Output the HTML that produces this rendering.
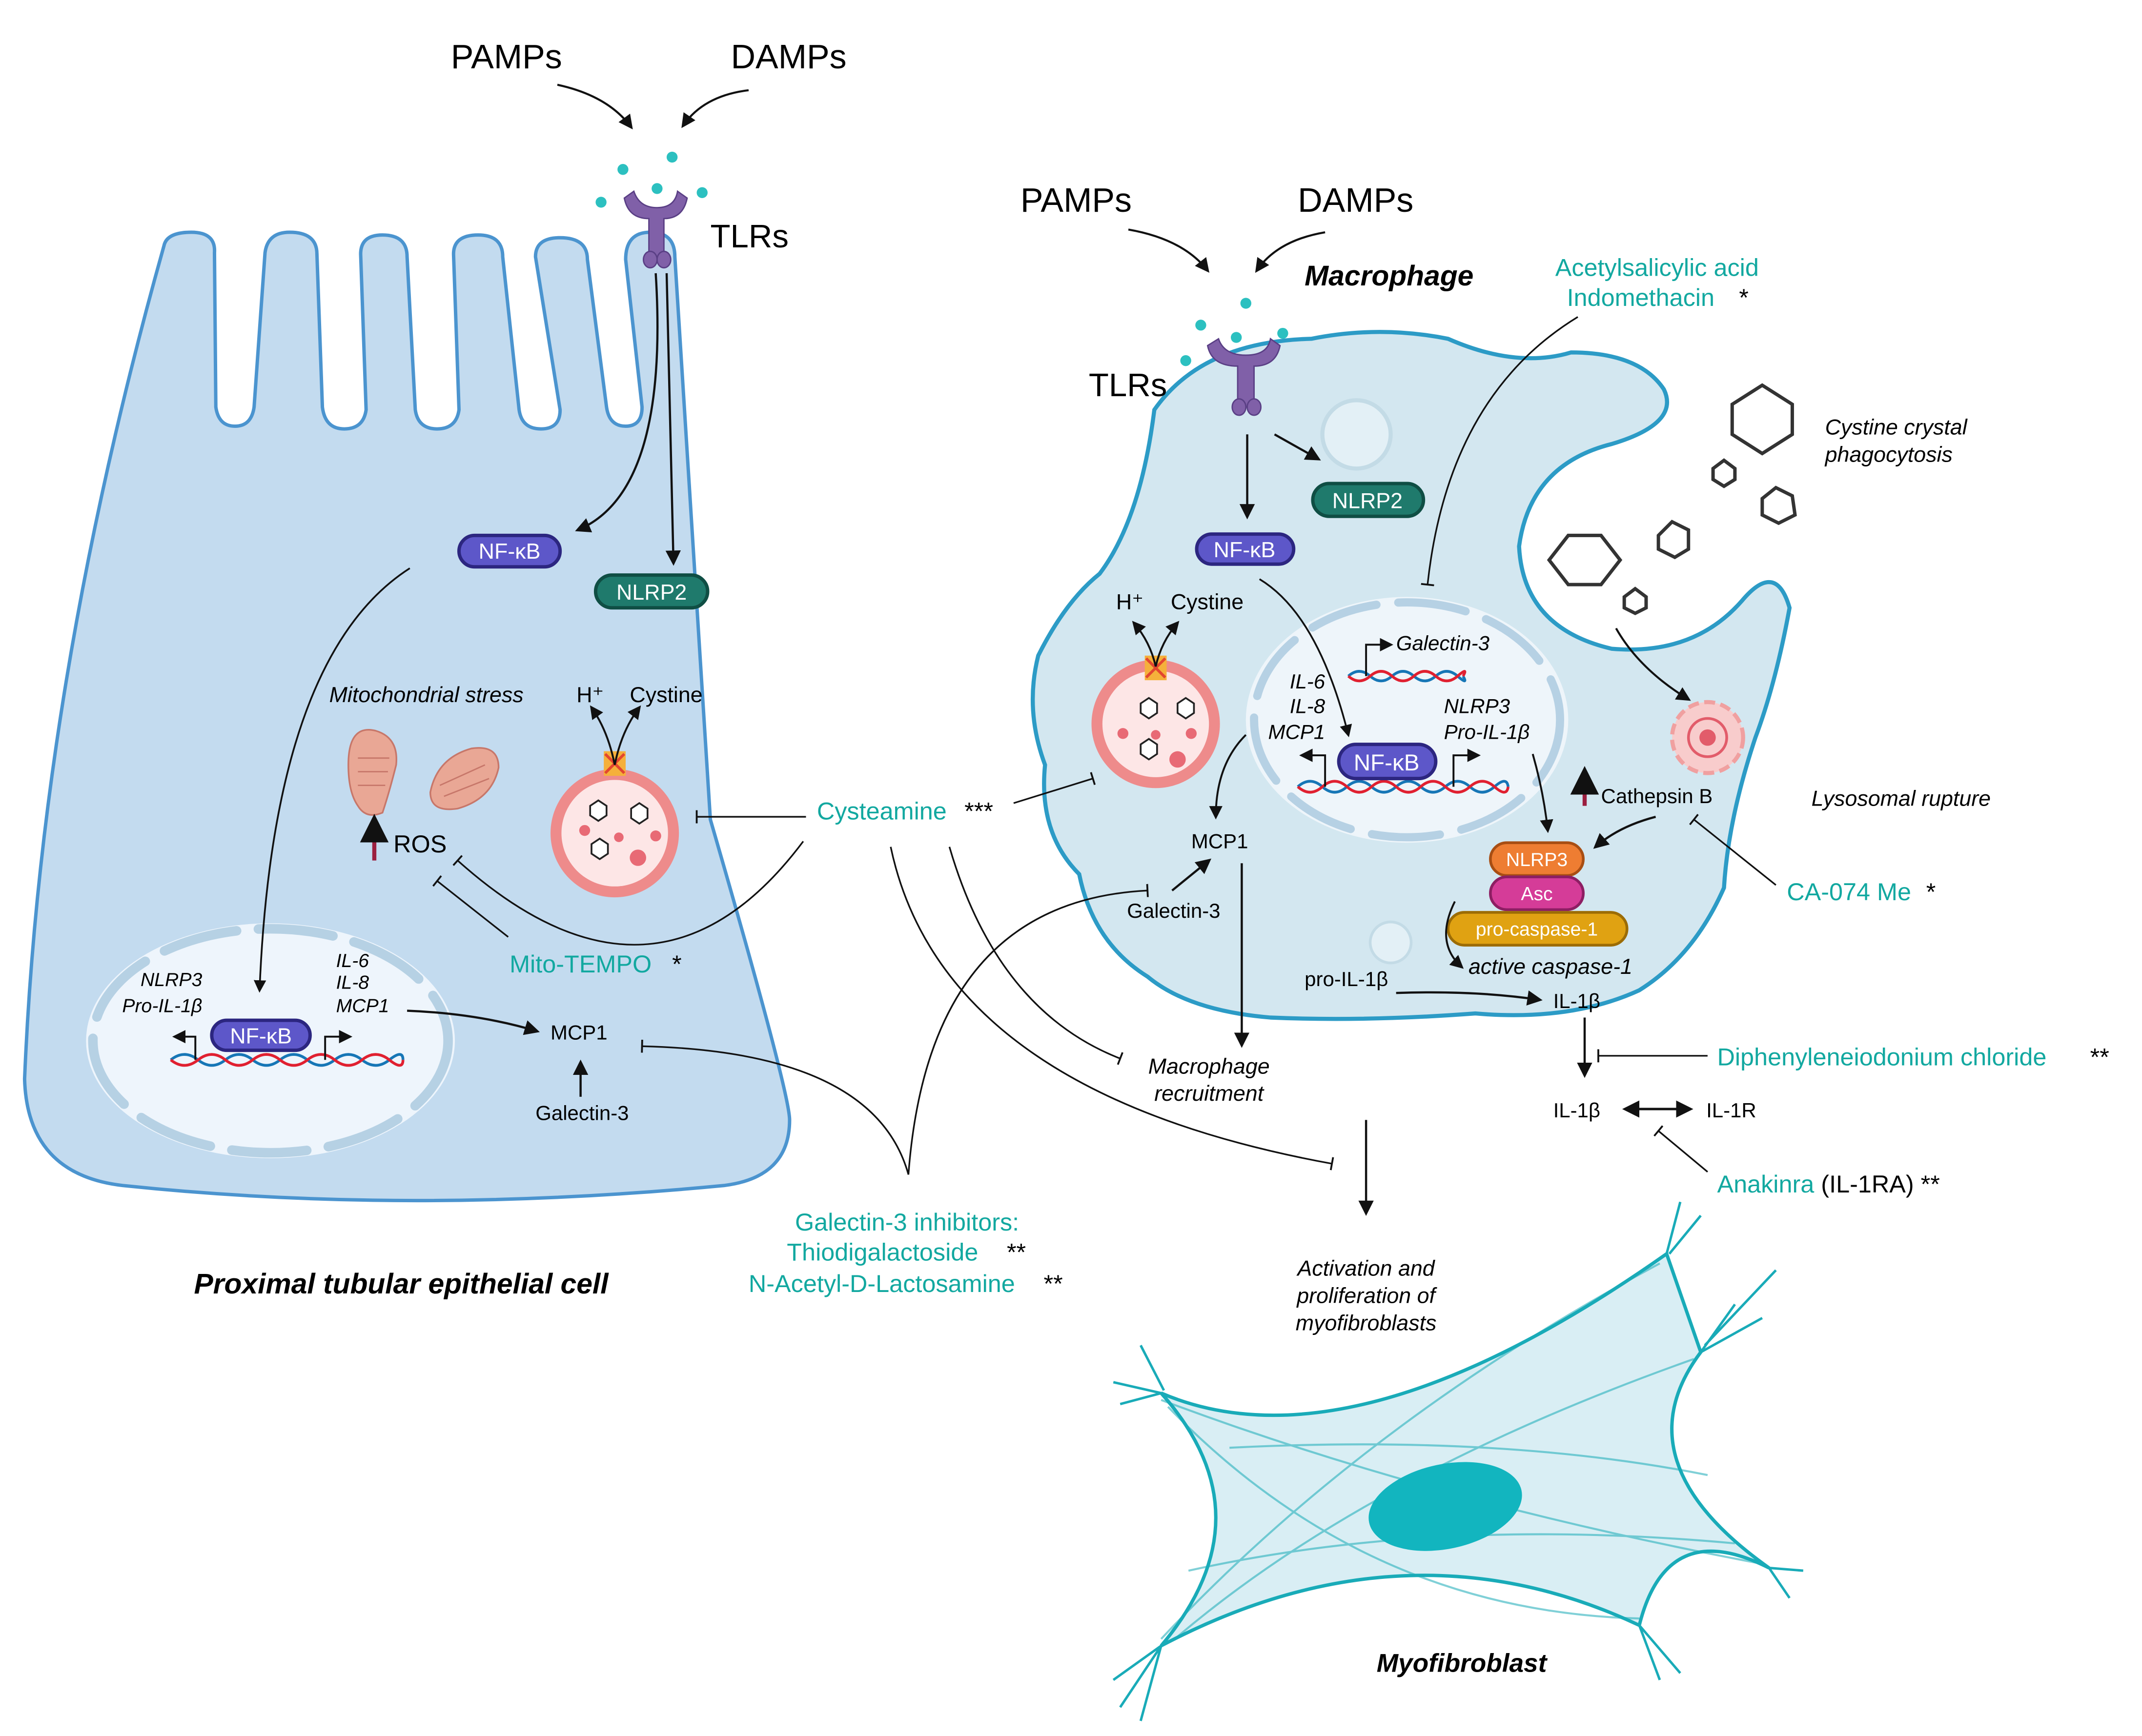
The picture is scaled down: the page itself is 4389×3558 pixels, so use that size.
<!DOCTYPE html>
<html><head><meta charset="utf-8"><style>
html,body{margin:0;padding:0;background:#fff;}
svg{display:block;}
text{font-family:"Liberation Sans",Arial,sans-serif;}
.it{font-style:italic;}
.tl{fill:#12a8a0;}
</style></head><body>
<svg width="4389" height="3558" viewBox="0 0 1568 1271" xmlns="http://www.w3.org/2000/svg">
<defs>
<marker id="ah" viewBox="0 0 10 10" refX="8" refY="5" markerWidth="7" markerHeight="7" orient="auto-start-reverse"><path d="M0,0 L10,5 L0,10 z" fill="#111"/></marker>
<marker id="tb" viewBox="0 0 10 10" refX="5" refY="5" markerWidth="8" markerHeight="8" orient="auto"><path d="M5,0 L5,10" stroke="#111" stroke-width="1.4"/></marker>
</defs>

<!-- ===== Left epithelial cell ===== -->
<path d="M120,180 Q122,170 140,170 Q158,170 157,185 L158,298 Q160,312 172,312 Q184,312 186,298 L194,185 Q196,170 212,170 Q232,170 232,186 L236,298 Q238,314 252,314 Q266,314 268,300 L264,186 Q264,172 280,172 Q298,172 298,188 L304,300 Q306,314 320,314 Q334,314 336,300 L332,186 Q332,172 350,172 Q368,172 368,188 L380,300 Q382,314 396,314 Q410,314 410,300 L392,188 Q392,174 410,174 Q430,174 430,190 L444,298 Q446,312 458,312 Q470,312 470,298 L458,190 Q458,170 476,170 Q494,170 494,188 L520,600 Q578,800 578,820 Q578,862 530,868 Q300,890 90,868 Q20,860 18,790 Q30,500 120,180 Z" fill="#c3dbef" stroke="#4b94cf" stroke-width="2.5"/>

<!-- left nucleus -->
<ellipse cx="198" cy="762" rx="135" ry="86" fill="#eef5fc"/>
<ellipse cx="198" cy="762" rx="130" ry="82" fill="none" stroke="#b6d1e4" stroke-width="7" stroke-dasharray="55 16" stroke-linecap="round"/>
<g stroke-width="2" fill="none">
<path d="M125,776 q10,-8 20,0 t20,0 t20,0 t20,0 t20,0 t20,0 t20,0 t20,0 t10,0" stroke="#1676b6"/>
<path d="M125,776 q10,8 20,0 t20,0 t20,0 t20,0 t20,0 t20,0 t20,0 t20,0 t10,0" stroke="#e02030"/>
</g>
<rect x="155" y="747" width="72" height="22" rx="11" fill="#5d57c9" stroke="#2c2680" stroke-width="2.5"/>
<text x="191" y="764" font-size="16" fill="#fff" text-anchor="middle">NF-κB</text>
<path d="M143,776 V759 H128" stroke="#111" stroke-width="1.4" fill="none" marker-end="url(#ah)"/>
<path d="M238,776 V759 H256" stroke="#111" stroke-width="1.4" fill="none" marker-end="url(#ah)"/>
<text x="148" y="722" font-size="14" class="it" text-anchor="end">NLRP3</text>
<text x="148" y="741" font-size="14" class="it" text-anchor="end">Pro-IL-1β</text>
<text x="246" y="708" font-size="14" class="it">IL-6</text>
<text x="246" y="724" font-size="14" class="it">IL-8</text>
<text x="246" y="741" font-size="14" class="it">MCP1</text>

<!-- left NF-kB, NLRP2 -->
<rect x="336" y="392" width="74" height="23" rx="11.5" fill="#5d57c9" stroke="#2c2680" stroke-width="2.5"/>
<text x="373" y="409" font-size="16" fill="#fff" text-anchor="middle">NF-κB</text>
<rect x="436" y="421" width="82" height="24" rx="12" fill="#1f7a6c" stroke="#0f4e44" stroke-width="2.5"/>
<text x="477" y="439" font-size="16" fill="#fff" text-anchor="middle">NLRP2</text>
<path d="M480,200 Q490,360 423,388" stroke="#111" stroke-width="1.6" fill="none" marker-end="url(#ah)"/>
<path d="M488,200 L493,412" stroke="#111" stroke-width="1.6" fill="none" marker-end="url(#ah)"/>
<path d="M300,416 Q200,480 190,725" stroke="#111" stroke-width="1.3" fill="none" marker-end="url(#ah)"/>

<!-- TLR left -->
<g fill="#8060a8" stroke="#5a3f85" stroke-width="1">
<path d="M457,145 Q460,160 475,160 L475,190 L486,190 L486,160 Q500,160 503,145 L496,140 Q494,152 481,152 Q468,152 464,140 Z"/>
<ellipse cx="476" cy="190" rx="5" ry="6"/><ellipse cx="486" cy="190" rx="5" ry="6"/>
</g>
<g fill="#2cc0c0"><circle cx="440" cy="148" r="4"/><circle cx="456" cy="124" r="4"/><circle cx="492" cy="115" r="4"/><circle cx="481" cy="138" r="4"/><circle cx="514" cy="141" r="4"/></g>
<text x="520" y="181" font-size="24">TLRs</text>
<text x="330" y="50" font-size="25">PAMPs</text>
<text x="535" y="50" font-size="25">DAMPs</text>
<path d="M408,62 Q445,70 462,93" stroke="#111" stroke-width="1.5" fill="none" marker-end="url(#ah)"/>
<path d="M548,66 Q515,70 500,92" stroke="#111" stroke-width="1.5" fill="none" marker-end="url(#ah)"/>

<!-- mitochondria -->
<g fill="#e9a795" stroke="#c7776a" stroke-width="1.2">
<path d="M255,560 Q255,530 275,535 Q292,540 290,560 Q285,580 280,595 Q268,600 262,590 Q255,580 255,560 Z"/>
<path d="M315,580 Q320,555 345,548 Q365,545 365,562 Q360,585 335,592 Q315,595 315,580 Z"/>
</g>
<g stroke="#c7776a" stroke-width="1"><path d="M262,555 H285 M262,565 H284 M262,575 H282 M322,575 L355,560 M325,583 L358,570"/></g>
<text x="241" y="514" font-size="16" class="it">Mitochondrial stress</text>
<path d="M274,630 V600" stroke="#9b1f3f" stroke-width="3" marker-end="url(#ah)"/>
<text x="288" y="624" font-size="18">ROS</text>

<!-- left lysosome -->
<circle cx="450" cy="610" r="47" fill="#ee8b8b"/>
<circle cx="450" cy="610" r="39" fill="#fde6e6"/>
<rect x="442" y="550" width="16" height="18" fill="#f5b03b"/>
<path d="M443,552 L457,566 M457,552 L443,566" stroke="#e3462f" stroke-width="2"/>
<g fill="#fff" stroke="#222" stroke-width="1.3">
<polygon points="432,590 438,586 444,590 444,597 438,601 432,597"/><polygon points="462,592 468,588 474,592 474,599 468,603 462,599"/><polygon points="433,618 439,614 445,618 445,625 439,629 433,625"/></g>
<g fill="#e86a75"><circle cx="428" cy="608" r="4"/><circle cx="453" cy="613" r="3.5"/><circle cx="480" cy="612" r="4"/><circle cx="467" cy="628" r="6"/></g>
<path d="M450,560 Q445,535 433,518" stroke="#111" stroke-width="1.4" fill="none" marker-end="url(#ah)"/>
<path d="M450,560 Q455,535 468,518" stroke="#111" stroke-width="1.4" fill="none" marker-end="url(#ah)"/>
<text x="422" y="514" font-size="16">H⁺</text>
<text x="461" y="514" font-size="16">Cystine</text>

<path d="M590,598 H510" stroke="#111" stroke-width="1.2" marker-end="url(#tb)"/>
<path d="M588,616 Q480,760 335,630" stroke="#111" stroke-width="1.2" fill="none" marker-end="url(#tb)"/>
<path d="M372,686 L320,645" stroke="#111" stroke-width="1.2" marker-end="url(#tb)"/>
<text x="373" y="712" font-size="18" class="tl">Mito-TEMPO</text><text x="492" y="712" font-size="18">*</text>
<path d="M298,740 Q350,742 393,755" stroke="#111" stroke-width="1.6" fill="none" marker-end="url(#ah)"/>
<text x="403" y="761" font-size="15">MCP1</text>
<path d="M425,803 V778" stroke="#111" stroke-width="1.6" marker-end="url(#ah)"/>
<text x="392" y="820" font-size="15">Galectin-3</text>
<path d="M665,860 Q640,770 470,766" stroke="#111" stroke-width="1.2" fill="none" marker-end="url(#tb)"/>
<text x="142" y="947" font-size="21" class="it" font-weight="bold">Proximal tubular epithelial cell</text>

<!-- ===== Macrophage ===== -->
<path d="M845,300 Q880,250 960,248 Q1010,238 1060,248 Q1110,270 1150,258 Q1200,258 1218,285 Q1230,310 1180,325 Q1120,340 1112,400 Q1115,460 1180,475 Q1240,480 1275,440 Q1300,410 1310,445 Q1300,500 1285,540 Q1265,600 1262,650 Q1240,700 1200,725 Q1150,748 1080,742 Q1000,748 930,745 Q870,740 840,715 Q800,690 790,640 Q760,610 765,560 Q750,520 760,480 Q780,440 805,420 Q835,380 845,300 Z" fill="#d3e7f0" stroke="#2c9bc6" stroke-width="3"/>
<circle cx="993" cy="318" r="25" fill="#e3f0f6" stroke="#c3dbe6" stroke-width="3"/>
<circle cx="1018" cy="690" r="15" fill="#e3f0f6" stroke="#c3dbe6" stroke-width="2"/>

<!-- crystals -->
<g fill="none" stroke="#333" stroke-width="2.5">
<polygon points="1268,296 1290,282 1312,296 1312,318 1290,332 1268,318"/>
<polygon points="1254,343 1262,337 1270,343 1270,351 1262,356 1254,351"/>
<polygon points="1290,365 1300,357 1312,363 1314,377 1302,383 1290,377"/>
<polygon points="1134,410 1148,392 1172,392 1186,410 1172,428 1148,428"/>
<polygon points="1214,392 1224,382 1236,388 1236,402 1226,408 1214,402"/>
<polygon points="1189,437 1197,431 1205,437 1205,445 1197,449 1189,445"/>
</g>
<text x="1336" y="318" font-size="16" class="it">Cystine crystal</text>
<text x="1336" y="338" font-size="16" class="it">phagocytosis</text>
<path d="M1183,460 Q1200,490 1236,512" stroke="#111" stroke-width="1.5" fill="none" marker-end="url(#ah)"/>
<circle cx="1250" cy="540" r="26" fill="#f8cccc" stroke="#f0a0a0" stroke-width="3" stroke-dasharray="8 4"/>
<circle cx="1250" cy="540" r="14" fill="none" stroke="#e25c6a" stroke-width="2"/>
<circle cx="1250" cy="540" r="6" fill="#e25c6a"/>
<text x="1326" y="590" font-size="16" class="it">Lysosomal rupture</text>

<!-- TLRs right -->
<g fill="#8060a8" stroke="#5a3f85" stroke-width="1">
<path d="M884,253 Q887,268 906,268 L906,298 L918,298 L918,268 Q934,268 937,253 L930,248 Q928,260 912,260 Q896,260 892,248 Z"/>
<ellipse cx="907" cy="298" rx="5" ry="6"/><ellipse cx="918" cy="298" rx="5" ry="6"/></g>
<g fill="#2cc0c0"><circle cx="868" cy="264" r="4"/><circle cx="879" cy="238" r="4"/><circle cx="912" cy="222" r="4"/><circle cx="905" cy="247" r="4"/><circle cx="939" cy="244" r="4"/></g>
<text x="797" y="290" font-size="24">TLRs</text>
<text x="747" y="155" font-size="25">PAMPs</text>
<text x="950" y="155" font-size="25">DAMPs</text>
<path d="M826,168 Q866,175 884,198" stroke="#111" stroke-width="1.5" fill="none" marker-end="url(#ah)"/>
<path d="M970,170 Q935,176 920,198" stroke="#111" stroke-width="1.5" fill="none" marker-end="url(#ah)"/>
<text x="955" y="209" font-size="21" class="it" font-weight="bold">Macrophage</text>
<text x="1213" y="202" font-size="18" class="tl" text-anchor="middle">Acetylsalicylic acid</text>
<text x="1147" y="224" font-size="18" class="tl">Indomethacin</text><text x="1273" y="224" font-size="18">*</text>
<path d="M1155,232 Q1060,290 1045,428" stroke="#111" stroke-width="1.2" fill="none" marker-end="url(#tb)"/>

<path d="M913,318 V378" stroke="#111" stroke-width="1.6" marker-end="url(#ah)"/>
<path d="M933,318 L965,336" stroke="#111" stroke-width="1.6" marker-end="url(#ah)"/>
<rect x="876" y="391" width="71" height="22" rx="11" fill="#5d57c9" stroke="#2c2680" stroke-width="2.5"/>
<text x="911" y="408" font-size="16" fill="#fff" text-anchor="middle">NF-κB</text>
<rect x="961" y="354" width="81" height="24" rx="12" fill="#1f7a6c" stroke="#0f4e44" stroke-width="2.5"/>
<text x="1001" y="372" font-size="16" fill="#fff" text-anchor="middle">NLRP2</text>

<!-- macrophage nucleus -->
<ellipse cx="1030" cy="527" rx="118" ry="90" fill="#eef5fa"/>
<ellipse cx="1030" cy="527" rx="112" ry="86" fill="none" stroke="#b6d1e4" stroke-width="6" stroke-dasharray="50 16" stroke-linecap="round"/>
<g stroke-width="2" fill="none">
<path d="M987,495 q8,-7 16,0 t16,0 t16,0 t16,0 t16,0 t4,0" stroke="#1676b6"/>
<path d="M987,495 q8,7 16,0 t16,0 t16,0 t16,0 t16,0 t4,0" stroke="#e02030"/>
<path d="M950,576 q9,-8 18,0 t18,0 t18,0 t18,0 t18,0 t18,0 t18,0 t18,0 t10,0" stroke="#1676b6"/>
<path d="M950,576 q9,8 18,0 t18,0 t18,0 t18,0 t18,0 t18,0 t18,0 t18,0 t10,0" stroke="#e02030"/>
</g>
<path d="M1000,495 V472 H1018" stroke="#111" stroke-width="1.4" fill="none" marker-end="url(#ah)"/>
<text x="1022" y="476" font-size="15" class="it">Galectin-3</text>
<rect x="980" y="545" width="71" height="25" rx="12.5" fill="#5d57c9" stroke="#2c2680" stroke-width="2.5"/>
<text x="1015" y="564" font-size="17" fill="#fff" text-anchor="middle">NF-κB</text>
<path d="M970,576 V553 H953" stroke="#111" stroke-width="1.4" fill="none" marker-end="url(#ah)"/>
<path d="M1064,576 V553 H1082" stroke="#111" stroke-width="1.4" fill="none" marker-end="url(#ah)"/>
<text x="970" y="504" font-size="15" class="it" text-anchor="end">IL-6</text>
<text x="970" y="522" font-size="15" class="it" text-anchor="end">IL-8</text>
<text x="970" y="541" font-size="15" class="it" text-anchor="end">MCP1</text>
<text x="1057" y="522" font-size="15" class="it">NLRP3</text>
<text x="1057" y="541" font-size="15" class="it">Pro-IL-1β</text>
<path d="M922,424 Q965,450 987,538" stroke="#111" stroke-width="1.3" fill="none" marker-end="url(#ah)"/>
<path d="M912,538 Q890,560 890,598" stroke="#111" stroke-width="1.4" fill="none" marker-end="url(#ah)"/>
<path d="M1122,552 Q1130,580 1133,608" stroke="#111" stroke-width="1.4" fill="none" marker-end="url(#ah)"/>

<!-- macrophage lysosome -->
<circle cx="846" cy="530" r="47" fill="#ee8b8b"/>
<circle cx="846" cy="530" r="39" fill="#fde6e6"/>
<rect x="838" y="480" width="16" height="18" fill="#f5b03b"/>
<path d="M839,482 L853,496 M853,482 L839,496" stroke="#e3462f" stroke-width="2"/>
<g fill="#fff" stroke="#222" stroke-width="1.3">
<polygon points="835,515 841,511 847,515 847,522 841,526 835,522"/><polygon points="862,515 868,511 874,515 874,522 868,526 862,522"/><polygon points="835,545 841,541 847,545 847,552 841,556 835,552"/></g>
<g fill="#e86a75"><circle cx="822" cy="537" r="4"/><circle cx="846" cy="538" r="3.5"/><circle cx="872" cy="537" r="4"/><circle cx="862" cy="556" r="6"/></g>
<path d="M846,488 Q842,470 830,456" stroke="#111" stroke-width="1.4" fill="none" marker-end="url(#ah)"/>
<path d="M846,488 Q850,470 862,456" stroke="#111" stroke-width="1.4" fill="none" marker-end="url(#ah)"/>
<text x="817" y="446" font-size="16">H⁺</text>
<text x="857" y="446" font-size="16">Cystine</text>

<text x="598" y="600" font-size="18" class="tl">Cysteamine</text><text x="706" y="600" font-size="18">***</text>
<path d="M742,588 L800,570" stroke="#111" stroke-width="1.2" marker-end="url(#tb)"/>
<path d="M652,620 Q690,800 975,852" stroke="#111" stroke-width="1.2" fill="none" marker-end="url(#tb)"/>
<path d="M695,620 Q730,740 820,775" stroke="#111" stroke-width="1.2" fill="none" marker-end="url(#tb)"/>

<text x="872" y="621" font-size="15">MCP1</text>
<path d="M858,652 L885,630" stroke="#111" stroke-width="1.6" marker-end="url(#ah)"/>
<text x="825" y="672" font-size="15">Galectin-3</text>
<path d="M665,860 Q680,660 840,652" stroke="#111" stroke-width="1.2" fill="none" marker-end="url(#tb)"/>
<path d="M909,632 V765" stroke="#111" stroke-width="1.6" marker-end="url(#ah)"/>
<text x="885" y="786" font-size="16" class="it" text-anchor="middle">Macrophage</text>
<text x="885" y="806" font-size="16" class="it" text-anchor="middle">recruitment</text>

<!-- inflammasome -->
<path d="M1160,590 V565" stroke="#9b1f3f" stroke-width="3" marker-end="url(#ah)"/>
<text x="1172" y="588" font-size="15">Cathepsin B</text>
<path d="M1212,598 Q1185,605 1168,620" stroke="#111" stroke-width="1.6" fill="none" marker-end="url(#ah)"/>
<rect x="1091" y="617" width="68" height="24" rx="12" fill="#ee7d32" stroke="#a84e13" stroke-width="2"/>
<text x="1125" y="634" font-size="14" fill="#fff" text-anchor="middle">NLRP3</text>
<rect x="1091" y="642" width="68" height="24" rx="12" fill="#d53c98" stroke="#8d1e63" stroke-width="2"/>
<text x="1125" y="659" font-size="14" fill="#fff" text-anchor="middle">Asc</text>
<rect x="1060" y="668" width="131" height="24" rx="12" fill="#e0a212" stroke="#9c6c05" stroke-width="2"/>
<text x="1125" y="685" font-size="14" fill="#fff" text-anchor="middle">pro-caspase-1</text>
<path d="M1065,660 Q1050,690 1070,708" stroke="#111" stroke-width="1.4" fill="none" marker-end="url(#ah)"/>
<text x="1075" y="713" font-size="16" class="it">active caspase-1</text>
<text x="955" y="722" font-size="15">pro-IL-1β</text>
<path d="M1022,727 Q1080,725 1127,732" stroke="#111" stroke-width="1.6" fill="none" marker-end="url(#ah)"/>
<text x="1137" y="738" font-size="15">IL-1β</text>
<path d="M1160,745 V787" stroke="#111" stroke-width="1.6" marker-end="url(#ah)"/>
<path d="M1250,773 H1170" stroke="#111" stroke-width="1.2" marker-end="url(#tb)"/>
<text x="1257" y="780" font-size="18" class="tl">Diphenyleneiodonium chloride</text><text x="1530" y="780" font-size="18">**</text>
<text x="1137" y="818" font-size="15">IL-1β</text>
<path d="M1190,812 H1237" stroke="#111" stroke-width="1.8" marker-end="url(#ah)" marker-start="url(#ah)"/>
<text x="1249" y="818" font-size="15">IL-1R</text>
<path d="M1250,858 L1214,828" stroke="#111" stroke-width="1.2" marker-end="url(#tb)"/>
<text x="1257" y="873" font-size="18"><tspan class="tl">Anakinra</tspan> (IL-1RA)  **</text>
<path d="M1300,648 L1240,600" stroke="#111" stroke-width="1.2" marker-end="url(#tb)"/>
<text x="1308" y="659" font-size="18" class="tl">CA-074 Me</text><text x="1410" y="659" font-size="18">*</text>

<text x="664" y="901" font-size="18" class="tl" text-anchor="middle">Galectin-3 inhibitors:</text>
<text x="576" y="923" font-size="18" class="tl">Thiodigalactoside</text><text x="737" y="923" font-size="18">**</text>
<text x="548" y="946" font-size="18" class="tl">N-Acetyl-D-Lactosamine</text><text x="764" y="946" font-size="18">**</text>

<path d="M1000,820 V888" stroke="#111" stroke-width="1.6" marker-end="url(#ah)"/>
<text x="1000" y="934" font-size="16" class="it" text-anchor="middle">Activation and</text>
<text x="1000" y="954" font-size="16" class="it" text-anchor="middle">proliferation of</text>
<text x="1000" y="974" font-size="16" class="it" text-anchor="middle">myofibroblasts</text>

<!-- myofibroblast -->
<path d="M850,1020 Q990,1080 1220,918 L1245,990 Q1185,1070 1295,1148 Q1220,1110 1200,1190 Q1030,1110 850,1205 Q930,1110 850,1020 Z" fill="#d9eef4" stroke="#19abb8" stroke-width="2.5"/>
<g stroke="#19abb8" stroke-width="1.8" fill="none">
<path d="M850,1020 L815,1012 M850,1020 L820,1028 M852,1018 L835,985 M1220,918 L1230,880 M1222,918 L1245,890 M1245,990 L1270,955 M1245,990 L1290,965 M1248,985 L1300,930 M1295,1148 L1320,1150 M1295,1148 L1310,1170 M1200,1190 L1230,1225 M1200,1190 L1215,1230 M850,1205 L820,1250 M850,1205 L835,1260 M850,1205 L815,1230"/>
</g>
<g stroke="#19abb8" stroke-width="1.5" fill="none" opacity="0.55">
<path d="M850,1025 Q1050,1100 1290,1145"/><path d="M855,1030 Q1000,1180 1200,1185"/><path d="M860,1200 Q1000,1080 1240,995"/><path d="M850,1200 Q1000,1040 1215,925"/><path d="M900,1060 Q1100,1050 1250,1080"/><path d="M870,1150 Q1050,1110 1270,1130"/>
</g>
<ellipse cx="1058" cy="1103" rx="57" ry="31" transform="rotate(-12 1058 1103)" fill="#12b5bf"/>
<text x="1070" y="1224" font-size="19" class="it" font-weight="bold" text-anchor="middle">Myofibroblast</text>
</svg>
</body></html>
